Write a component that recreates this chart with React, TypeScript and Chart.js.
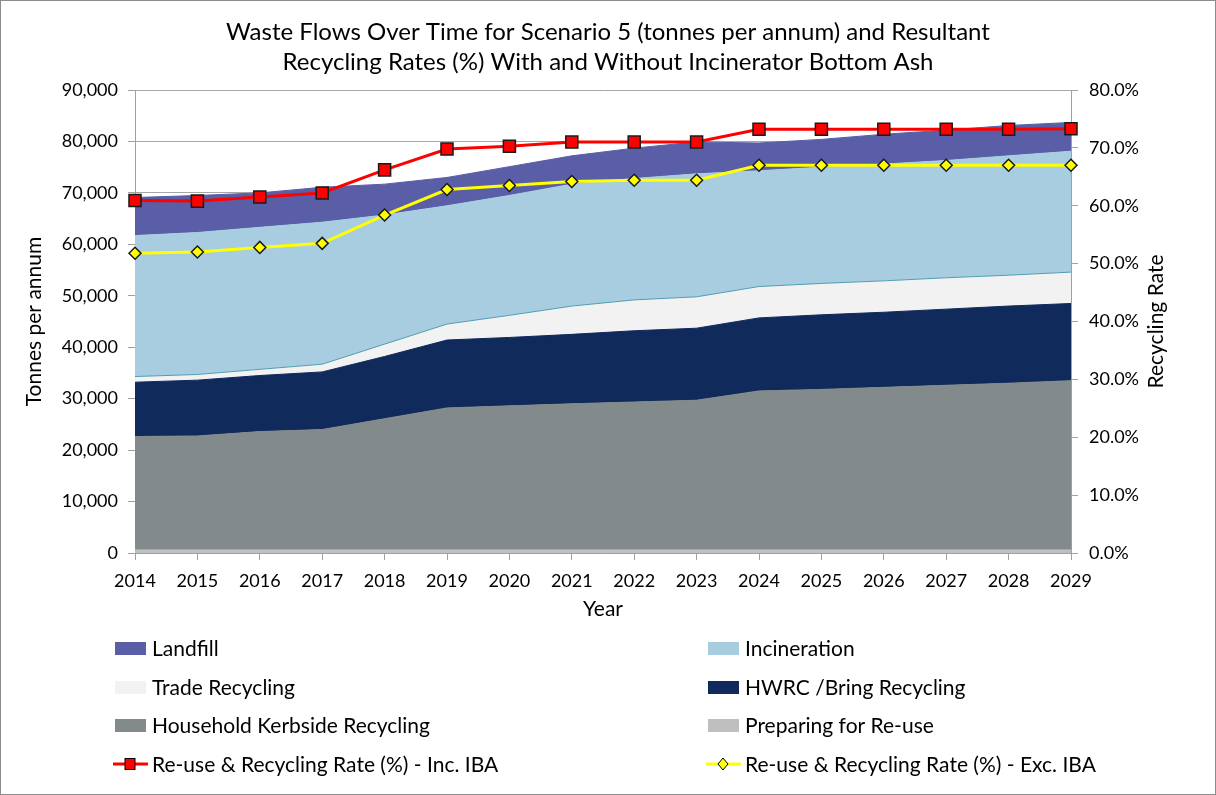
import React, { useEffect, useRef } from 'react';
import { Chart, registerables } from 'chart.js';

Chart.register(...registerables);

const years = ['2014', '2015', '2016', '2017', '2018', '2019', '2020', '2021', '2022', '2023', '2024', '2025', '2026', '2027', '2028', '2029'];

const preparingForReuse = [600, 600, 600, 600, 600, 600, 600, 600, 600, 600, 600, 600, 600, 600, 600, 600];
const householdKerbside = [22040, 22150, 23000, 23400, 25500, 27600, 28000, 28400, 28750, 29100, 30900, 31200, 31600, 32000, 32400, 32900];
const hwrcBring = [10560, 10850, 10900, 11200, 12100, 13200, 13300, 13500, 13850, 14000, 14200, 14500, 14600, 14800, 15000, 15000];
const tradeRecycling = [1100, 1100, 1200, 1500, 2400, 3100, 4300, 5500, 6000, 6100, 6100, 6100, 6100, 6100, 6000, 6100];
const incineration = [27400, 27600, 27600, 27600, 25100, 23000, 23300, 23700, 23600, 23900, 22500, 22600, 22700, 22800, 23200, 23500];
const landfill = [7400, 7200, 6700, 6800, 6000, 5500, 5600, 5500, 5900, 6200, 5400, 5400, 5800, 5900, 5900, 5600];

const rateIncIBA = [60.9, 60.8, 61.5, 62.2, 66.2, 69.8, 70.3, 71.0, 71.0, 71.0, 73.2, 73.2, 73.2, 73.2, 73.2, 73.3];
const rateExcIBA = [51.8, 52.0, 52.8, 53.5, 58.4, 62.8, 63.5, 64.2, 64.4, 64.4, 67.0, 67.0, 67.0, 67.0, 67.0, 67.0];

const titleLines = [
  'Waste Flows Over Time for Scenario 5 (tonnes per annum) and Resultant',
  'Recycling Rates (%) With and Without Incinerator Bottom Ash',
];

const FONT = 'Lato';

const borderPlugin = {
  id: 'outerBorder',
  afterDraw(chart: any) {
    const ctx = chart.ctx;
    ctx.save();
    ctx.strokeStyle = '#8c8c8c';
    ctx.lineWidth = 1;
    ctx.strokeRect(0.5, 0.5, chart.width - 1, chart.height - 1);
    ctx.restore();
  },
};

const rightTitlePlugin = {
  id: 'rightTitle',
  afterDraw(chart: any) {
    const ctx = chart.ctx;
    const area = chart.chartArea;
    ctx.save();
    ctx.translate(1156, (area.top + area.bottom) / 2);
    ctx.rotate(-Math.PI / 2);
    ctx.font = `21px ${FONT}`;
    ctx.fillStyle = '#000';
    ctx.textAlign = 'center';
    ctx.textBaseline = 'middle';
    ctx.fillText('Recycling Rate', 0, 0);
    ctx.restore();
  },
};

const legendOrder = [5, 4, 3, 2, 1, 0, 6, 7];

const legendPlugin = {
  id: 'customLegend',
  afterDraw(chart: any) {
    const ctx = chart.ctx;
    const rows = [648, 687, 725, 764];
    const boxX = [115, 708];
    const textX = [152, 745];
    ctx.save();
    ctx.font = `21px ${FONT}`;
    ctx.textBaseline = 'middle';
    ctx.textAlign = 'left';
    legendOrder.forEach((dsIndex, i) => {
      const ds = chart.data.datasets[dsIndex];
      const row = rows[Math.floor(i / 2)];
      const col = i % 2;
      const bx = boxX[col];
      if (ds.type === 'line' && ds.fill === false) {
        ctx.strokeStyle = ds.borderColor;
        ctx.lineWidth = 3;
        ctx.beginPath();
        ctx.moveTo(bx - 2, row);
        ctx.lineTo(bx + 33, row);
        ctx.stroke();
        ctx.fillStyle = ds.pointBackgroundColor;
        ctx.strokeStyle = '#000';
        ctx.lineWidth = 1;
        const cx = bx + 15;
        if (ds.pointStyle === 'rect') {
          ctx.fillRect(cx - 5, row - 5.5, 10, 11);
          ctx.strokeRect(cx - 5, row - 5.5, 10, 11);
        } else {
          ctx.beginPath();
          ctx.moveTo(cx, row - 6);
          ctx.lineTo(cx + 5, row);
          ctx.lineTo(cx, row + 6);
          ctx.lineTo(cx - 5, row);
          ctx.closePath();
          ctx.fill();
          ctx.stroke();
        }
      } else {
        ctx.fillStyle = ds.backgroundColor;
        ctx.fillRect(bx, row - 6, 31, 13);
      }
      ctx.fillStyle = '#000';
      ctx.fillText(ds.label, textX[col], row + 1);
    });
    ctx.restore();
  },
};

function areaDataset(label: string, data: number[], color: string, fill: any, border?: string) {
  return {
    type: 'line',
    label,
    data,
    yAxisID: 'y',
    backgroundColor: color,
    borderColor: border || color,
    borderWidth: 1,
    pointRadius: 0,
    pointHoverRadius: 0,
    tension: 0,
    fill,
    order: 0,
  };
}

export default function App() {
  const ref = useRef<HTMLCanvasElement>(null);

  useEffect(() => {
    if (!ref.current) return;
    Chart.defaults.font.family = FONT;
    Chart.defaults.color = '#000';
    const chart = new Chart(ref.current, {
      type: 'line',
      data: {
        labels: years,
        datasets: [
          areaDataset('Preparing for Re-use', preparingForReuse, '#bfbfbf', 'origin'),
          areaDataset('Household Kerbside Recycling', householdKerbside, '#828a8b', '-1'),
          areaDataset('HWRC /Bring Recycling', hwrcBring, '#102a5c', '-1'),
          areaDataset('Trade Recycling', tradeRecycling, '#f2f2f2', '-1', '#4f9db3'),
          areaDataset('Incineration', incineration, '#a8cde0', '-1'),
          areaDataset('Landfill', landfill, '#5a5ea6', '-1'),
          {
            type: 'line',
            label: 'Re-use & Recycling Rate (%) - Inc. IBA',
            data: rateIncIBA,
            yAxisID: 'y1',
            borderColor: '#ff0000',
            borderWidth: 3,
            pointStyle: 'rect',
            pointRadius: 8.5,
            pointBackgroundColor: '#ff0000',
            pointBorderColor: '#1a1a1a',
            pointBorderWidth: 1.5,
            fill: false,
            tension: 0,
            order: -1,
          },
          {
            type: 'line',
            label: 'Re-use & Recycling Rate (%) - Exc. IBA',
            data: rateExcIBA,
            yAxisID: 'y1',
            borderColor: '#ffff00',
            borderWidth: 3,
            pointStyle: 'rectRot',
            pointRadius: 6,
            pointBackgroundColor: '#ffff00',
            pointBorderColor: '#1a1a1a',
            pointBorderWidth: 1.5,
            fill: false,
            tension: 0,
            order: -2,
          },
        ] as any,
      },
      options: {
        responsive: false,
        animation: false,
        devicePixelRatio: 1,
        layout: { padding: { top: 0, left: 0, right: 0, bottom: 170 } },
        plugins: {
          legend: { display: false },
          tooltip: { enabled: false },
          title: {
            display: true,
            text: titleLines,
            color: '#000',
            font: { family: FONT, size: 24, weight: 'normal', lineHeight: '30px' },
            padding: { top: 17, bottom: 13 },
          },
        },
        scales: {
          x: {
            type: 'category',
            offset: false,
            grid: { display: true, drawOnChartArea: false, drawTicks: true, tickLength: 7, tickColor: '#a0a0a0' },
            border: { display: true, color: '#a0a0a0' },
            ticks: { autoSkip: false, maxRotation: 0, minRotation: 0, padding: 10, color: '#000', font: { size: 18 } },
            title: { display: true, text: 'Year', color: '#000', font: { size: 21 }, padding: { top: 4, bottom: 3 } },
            afterFit: (s: any) => { s.height = 72; },
          },
          y: {
            type: 'linear',
            position: 'left',
            stacked: true,
            min: 0,
            max: 90000,
            grid: { color: '#a6a6a6', drawTicks: true, tickLength: 7, tickColor: '#a0a0a0' },
            border: { display: true, color: '#a0a0a0' },
            ticks: {
              stepSize: 10000,
              padding: 10,
              color: '#000',
              font: { size: 18 },
              callback: (v: any) => Number(v).toLocaleString('en-US'),
            },
            title: { display: true, text: 'Tonnes per annum', color: '#000', font: { size: 21 }, padding: { top: 22, bottom: 0 } },
            afterFit: (s: any) => { s.width = 135; },
          },
          y1: {
            type: 'linear',
            position: 'right',
            stacked: false,
            min: 0,
            max: 80,
            grid: { drawOnChartArea: false, drawTicks: true, tickLength: 7, tickColor: '#a0a0a0' },
            border: { display: true, color: '#a0a0a0' },
            ticks: {
              stepSize: 10,
              padding: 11,
              color: '#000',
              font: { size: 18 },
              callback: (v: any) => Number(v).toFixed(1) + '%',
            },
            afterFit: (s: any) => { s.width = 145; },
          },
        },
      } as any,
      plugins: [borderPlugin, rightTitlePlugin, legendPlugin],
    });
    return () => chart.destroy();
  }, []);

  return (
    <div style={{ position: 'absolute', left: 0, top: 0, width: 1216, height: 795, background: '#fff' }}>
      <canvas ref={ref} width={1216} height={795} style={{ display: 'block' }} />
    </div>
  );
}
